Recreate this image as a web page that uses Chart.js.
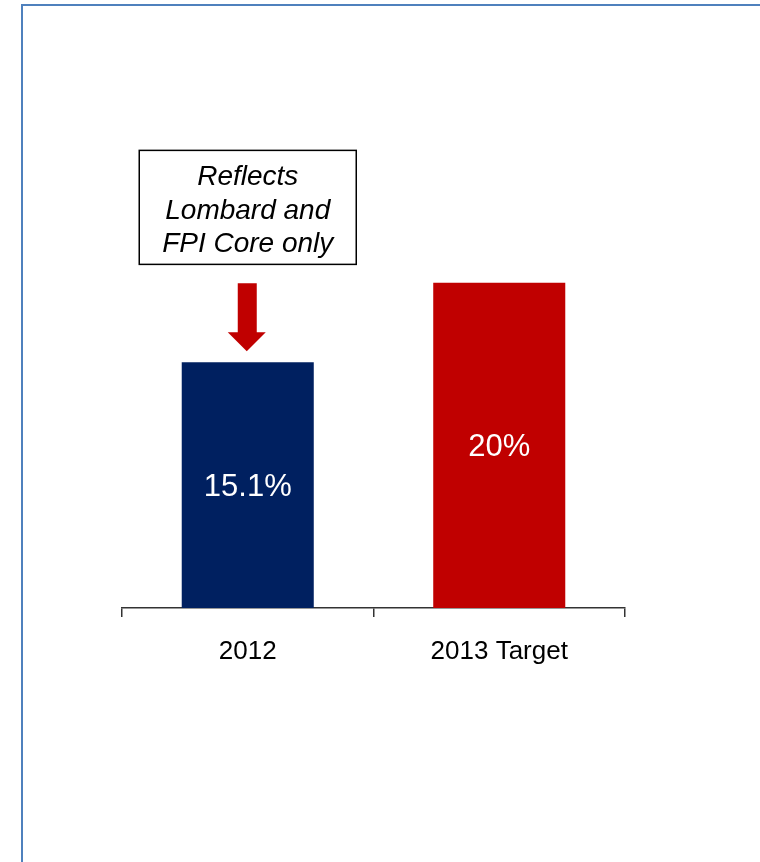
<!DOCTYPE html>
<html>
<head>
<meta charset="utf-8">
<script src="https://cdn.jsdelivr.net/npm/chart.js@4"></script>
<style>
  body { margin: 0; background: #fff; }
  #wrap { position: relative; width: 760px; height: 862px; overflow: hidden; }
  #frame { position: absolute; left: 21px; top: 4px; width: 900px; height: 1000px;
           border-left: 2px solid #4f81bd; border-top: 2px solid #4f81bd; }
  canvas { position: absolute; left: 0; top: 0; }
</style>
</head>
<body>
<div id="wrap">
  <div id="frame"></div>
  <canvas id="chart" width="760" height="862"></canvas>
</div>
<script>
// --- DATA ---
const categories = ['2012', '2013 Target'];
const values = [15.1, 20];
const valueLabels = ['15.1%', '20%'];
const barColors = ['#002060', '#c00000'];
const noteLines = ['Reflects', 'Lombard and', 'FPI Core only'];

const FONT = "'Liberation Sans', Arial, sans-serif";

// white % labels in the middle of each bar
const valueLabelPlugin = {
  id: 'valueLabels',
  afterDatasetsDraw(chart) {
    const ctx = chart.ctx;
    const meta = chart.getDatasetMeta(0);
    ctx.save();
    ctx.fillStyle = '#ffffff';
    ctx.font = '31px ' + FONT;
    ctx.textAlign = 'center';
    ctx.textBaseline = 'middle';
    meta.data.forEach((bar, i) => {
      ctx.fillText(valueLabels[i], bar.x, (bar.y + bar.base) / 2 + 2);
    });
    ctx.restore();
  }
};

// note box + red arrow over the first bar
const notePlugin = {
  id: 'note',
  afterDatasetsDraw(chart) {
    const ctx = chart.ctx;
    const bar = chart.getDatasetMeta(0).data[0];
    const cx = bar.x, top = bar.y;
    ctx.save();
    // arrow
    ctx.fillStyle = '#c00000';
    ctx.beginPath();
    ctx.moveTo(cx - 10, top - 79);
    ctx.lineTo(cx + 9, top - 79);
    ctx.lineTo(cx + 9, top - 30);
    ctx.lineTo(cx + 18, top - 30);
    ctx.lineTo(cx - 1, top - 11);
    ctx.lineTo(cx - 20, top - 30);
    ctx.lineTo(cx - 10, top - 30);
    ctx.closePath();
    ctx.fill();
    // box
    const w = 217, h = 114;
    const bx = cx - w / 2, by = top - 98 - h;
    ctx.fillStyle = '#ffffff';
    ctx.fillRect(bx, by, w, h);
    ctx.strokeStyle = '#000000';
    ctx.lineWidth = 1.5;
    ctx.strokeRect(bx, by, w, h);
    ctx.fillStyle = '#000000';
    ctx.font = 'italic 28px ' + FONT;
    ctx.textAlign = 'center';
    ctx.textBaseline = 'middle';
    noteLines.forEach((t, i) => {
      ctx.fillText(t, cx, by + 27 + i * 33.5);
    });
    ctx.restore();
  }
};

new Chart(document.getElementById('chart'), {
  type: 'bar',
  data: {
    labels: categories,
    datasets: [{
      data: values,
      backgroundColor: barColors,
      borderWidth: 0,
      barPercentage: 0.525,
      categoryPercentage: 1
    }]
  },
  options: {
    responsive: false,
    animation: false,
    layout: { padding: { left: 122, right: 135, top: 120, bottom: 0 } },
    plugins: { legend: { display: false }, tooltip: { enabled: false } },
    scales: {
      y: { display: false, min: 0, max: 30 },
      x: {
        afterFit: s => { s.height = 254; },
        grid: { drawOnChartArea: false, drawTicks: true, tickLength: 9, color: '#333333', lineWidth: 1.5, offset: true },
        border: { display: true, color: '#333333', width: 1.5 },
        ticks: { color: '#000000', font: { family: FONT, size: 26 }, padding: 19 }
      }
    }
  },
  plugins: [valueLabelPlugin, notePlugin]
});
</script>
</body>
</html>
